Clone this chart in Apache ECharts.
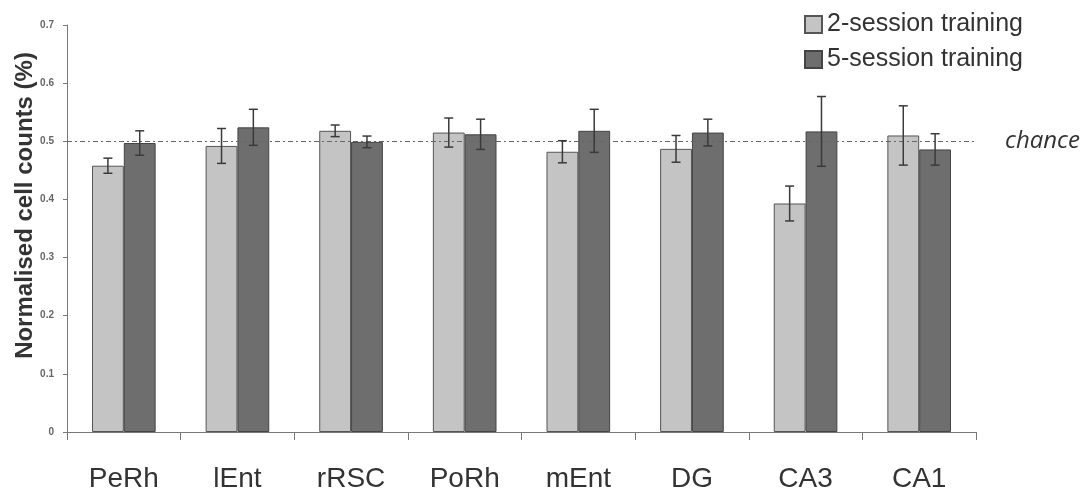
<!DOCTYPE html>
<html>
<head>
<meta charset="utf-8">
<script src="https://cdn.jsdelivr.net/npm/echarts@6/dist/echarts.min.js"></script>
<style>html,body{margin:0;padding:0;background:#fff;}#c{width:1090px;height:493px;}</style>
</head>
<body>
<div id="c"></div>
<script>
var categories = ['PeRh', 'lEnt', 'rRSC', 'PoRh', 'mEnt', 'DG', 'CA3', 'CA1'];
var twoSession = [0.458, 0.492, 0.518, 0.515, 0.482, 0.487, 0.393, 0.510];
var twoSessionErr = [0.013, 0.030, 0.010, 0.025, 0.019, 0.023, 0.030, 0.051];
var fiveSession = [0.497, 0.524, 0.499, 0.512, 0.518, 0.515, 0.517, 0.486];
var fiveSessionErr = [0.021, 0.031, 0.010, 0.026, 0.037, 0.023, 0.060, 0.027];
var yTicks = [0, 0.1, 0.2, 0.3, 0.4, 0.5, 0.6, 0.7];
var chanceLevel = 0.5;

var chart = echarts.init(document.getElementById('c'));

function errData(vals, errs) {
  return vals.map(function (v, i) { return [i, v, errs[i]]; });
}
function errRender(offsetFrac) {
  return function (params, api) {
    var idx = api.value(0);
    var band = api.size([1, 0])[0];
    var c = api.coord([idx, api.value(1)]);
    var x = c[0] + band * offsetFrac;
    var hi = api.coord([idx, api.value(1) + api.value(2)])[1];
    var lo = api.coord([idx, api.value(1) - api.value(2)])[1];
    var cap = 4.5;
    var st = { stroke: '#3a3a3a', lineWidth: 1.5 };
    return {
      type: 'group',
      children: [
        { type: 'line', shape: { x1: x, y1: hi, x2: x, y2: lo }, style: st },
        { type: 'line', shape: { x1: x - cap, y1: hi, x2: x + cap, y2: hi }, style: st },
        { type: 'line', shape: { x1: x - cap, y1: lo, x2: x + cap, y2: lo }, style: st }
      ]
    };
  };
}

chart.setOption({
  animation: false,
  backgroundColor: '#fff',
  textStyle: { fontFamily: 'Liberation Sans, Arial, sans-serif' },
  grid: { left: 67, right: 114, top: 25, bottom: 61, containLabel: false, outerBoundsMode: 'none' },
  legend: {
    orient: 'vertical',
    left: 799,
    top: 7,
    icon: 'rect',
    itemWidth: 17,
    itemHeight: 17,
    itemGap: 10,
    textStyle: { fontSize: 25, color: '#333', fontFamily: 'Liberation Sans, Arial, sans-serif' },
    data: ['2-session training', '5-session training']
  },
  xAxis: {
    type: 'category',
    data: categories,
    axisLine: { lineStyle: { color: '#777', width: 1 } },
    axisTick: { show: true, length: 8, lineStyle: { color: '#777' } },
    axisLabel: { fontSize: 28, color: '#333', margin: 33 }
  },
  yAxis: {
    type: 'value',
    min: 0,
    max: 0.7,
    interval: 0.1,
    name: 'Normalised cell counts (%)',
    nameLocation: 'middle',
    nameGap: 30,
    nameMoveOverlap: false,
    nameTextStyle: { fontSize: 24, fontWeight: 'bold', color: '#333', padding: [0, 0, 0, 46] },
    axisLine: { show: true, lineStyle: { color: '#777' } },
    axisTick: { show: true, length: 4, lineStyle: { color: '#777' } },
    splitLine: { show: false },
    axisLabel: {
      fontSize: 10, fontWeight: 'bold', color: '#666', margin: 13,
      formatter: function (v) {
        return v === 0 ? '0' : String(Math.round(v * 10) / 10);
      }
    }
  },
  series: [
    {
      name: '2-session training',
      type: 'bar',
      data: twoSession,
      barWidth: '28%',
      barGap: '0%',
      itemStyle: { color: '#c4c4c4', borderColor: '#555', borderWidth: 1 },
      markLine: {
        silent: true,
        symbol: 'none',
        data: [{ yAxis: chanceLevel }],
        lineStyle: { color: '#666', type: [5, 3, 2, 3], width: 1.2 },
        label: {
          show: true, position: 'end', formatter: 'chance', distance: 29,
          fontSize: 24, fontStyle: 'italic', color: '#333', fontFamily: 'Open Sans, sans-serif'
        }
      }
    },
    {
      name: '5-session training',
      type: 'bar',
      data: fiveSession,
      barWidth: '28%',
      barGap: '0%',
      itemStyle: { color: '#6e6e6e', borderColor: '#444', borderWidth: 1 }
    },
    {
      type: 'custom',
      renderItem: errRender(-0.14),
      data: errData(twoSession, twoSessionErr),
      z: 10
    },
    {
      type: 'custom',
      renderItem: errRender(0.14),
      data: errData(fiveSession, fiveSessionErr),
      z: 10
    }
  ]
});
</script>
</body>
</html>
